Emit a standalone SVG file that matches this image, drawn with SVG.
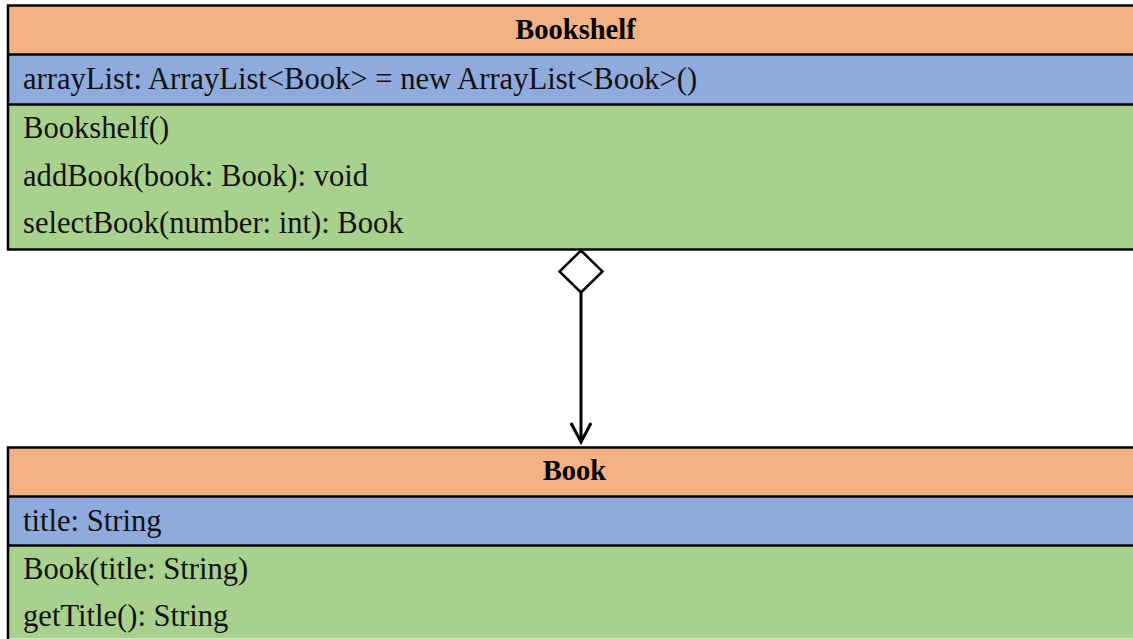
<svg xmlns="http://www.w3.org/2000/svg" width="1133" height="639" viewBox="0 0 1133 639">
  <style>
    .hdr { fill: #F4B183; }
    .att { fill: #8FAADC; }
    .ops { fill: #A9D18E; }
    .edge { stroke: #000; stroke-width: 2.5; fill: none; }
    .title { font-family: "Liberation Serif", serif; font-size: 28.5px; font-weight: bold; fill: #000; text-anchor: middle; }
    .member { font-family: "Liberation Serif", serif; font-size: 30.6px; fill: #111; }
    .conn { stroke: #000; stroke-width: 3; fill: none; }
  </style>
  <rect width="1133" height="639" fill="#fff"/>

  <!-- Bookshelf class -->
  <g id="bookshelf">
    <rect class="hdr" x="8" y="5.5" width="1140" height="49"/>
    <rect class="att" x="8" y="54.5" width="1140" height="50"/>
    <rect class="ops" x="8" y="104.5" width="1140" height="145"/>
    <rect class="edge" x="8" y="5.5" width="1140" height="244"/>
    <line class="edge" x1="8" y1="54.5" x2="1148" y2="54.5"/>
    <line class="edge" x1="8" y1="104.5" x2="1148" y2="104.5"/>
    <text class="title" x="575.5" y="38.5">Bookshelf</text>
    <text class="member" x="23" y="89">arrayList: ArrayList&lt;Book&gt; = new ArrayList&lt;Book&gt;()</text>
    <text class="member" x="23" y="138">Bookshelf()</text>
    <text class="member" x="23" y="186">addBook(book: Book): void</text>
    <text class="member" x="23" y="233">selectBook(number: int): Book</text>
  </g>

  <!-- Book class -->
  <g id="book">
    <rect class="hdr" x="8" y="447.5" width="1140" height="49"/>
    <rect class="att" x="8" y="496.5" width="1140" height="49"/>
    <rect class="ops" x="8" y="545.5" width="1140" height="93"/>
    <polyline class="edge" points="8,639 8,447.5 1148,447.5"/>
    <line class="edge" x1="8" y1="496.5" x2="1148" y2="496.5"/>
    <line class="edge" x1="8" y1="545.5" x2="1148" y2="545.5"/>
    <text class="title" x="574.5" y="480">Book</text>
    <text class="member" x="23" y="531">title: String</text>
    <text class="member" x="23" y="579">Book(title: String)</text>
    <text class="member" x="23" y="626">getTitle(): String</text>
  </g>

  <!-- Aggregation: Bookshelf holds Books -->
  <g id="connectors">
    <polygon points="581,250.5 602.5,271.5 581,292.5 559.5,271.5" fill="#fff" stroke="#000" stroke-width="2.5"/>
    <line class="conn" x1="581" y1="292.5" x2="581" y2="442"/>
    <polyline class="conn" points="571,423 581,442 591,423"/>
  </g>
</svg>
